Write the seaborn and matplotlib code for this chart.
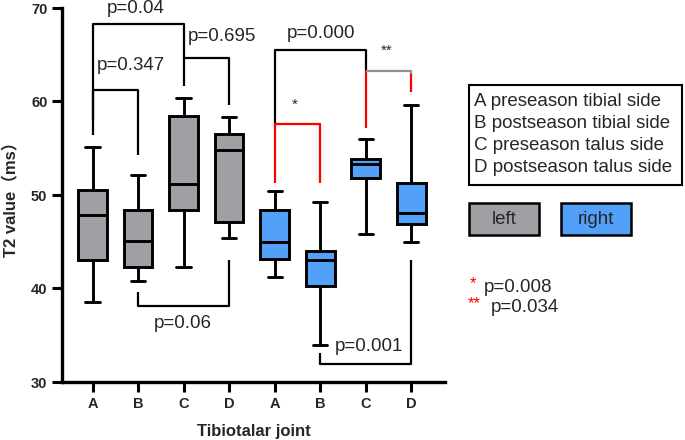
import numpy as np
import pandas as pd
import matplotlib.pyplot as plt
import seaborn as sns
from matplotlib.patches import Rectangle

# five-number summaries: min, q1, median, q3, max
joints = ["A", "B", "C", "D"]
sides = ["left", "right"]
left_stats = [
    [38.6, 43.0, 47.9, 50.5, 55.1],
    [40.8, 42.3, 45.1, 48.4, 52.1],
    [42.3, 48.4, 51.2, 58.5, 60.4],
    [45.4, 47.1, 54.8, 56.5, 58.3],
]
right_stats = [
    [41.2, 43.2, 45.0, 48.4, 50.4],
    [34.0, 40.3, 43.0, 44.0, 49.3],
    [45.8, 51.8, 53.3, 53.8, 56.0],
    [45.0, 46.9, 48.1, 51.3, 59.6],
]
legend_lines = ["A preseason tibial side", "B postseason tibial side",
                "C preseason talus side", "D postseason talus side"]
p_star1 = "p=0.008"
p_star2 = "p=0.034"

colors = {"left": "#a0a0a4", "right": "#52a0f8"}

rows = []
for side, stats in zip(sides, [left_stats, right_stats]):
    for j, vals in zip(joints, stats):
        for v in vals:
            rows.append({"group": side + " " + j, "side": side, "T2": v})
df = pd.DataFrame(rows)
order = [s + " " + j for s in sides for j in joints]

sns.set_style("ticks")
plt.rcParams['font.family'] = ['Liberation Sans', 'Noto Sans CJK SC', 'DejaVu Sans']

fig = plt.figure(figsize=(6.85, 4.40), dpi=100)
W, H = 685, 440
ax = fig.add_axes([62 / W, 58 / H, (445 - 62) / W, (382 - 8) / H])

sns.boxplot(data=df, x="group", y="T2", hue="side", order=order,
            palette=colors, dodge=False, saturation=1, width=0.63,
            whis=(0, 100), linewidth=2.1, linecolor="black", legend=False, ax=ax)

ax.set_ylim(30, 70)
ax.set_xlim(-0.67, 7.74)
ax.set_yticks([30, 40, 50, 60, 70])
ax.set_xticks(range(8), labels=joints * 2)
for lab in ax.get_xticklabels() + ax.get_yticklabels():
    lab.set_fontweight("bold")
    lab.set_fontsize(10.5)
ax.tick_params(width=2.2, length=7, color="black")
for s in ["top", "right"]:
    ax.spines[s].set_visible(False)
for s in ["left", "bottom"]:
    ax.spines[s].set_linewidth(2.4)
    ax.spines[s].set_color("black")
ax.set_xlabel("Tibiotalar joint", fontsize=12, fontweight="bold", labelpad=10)
ax.set_ylabel("T2 value（ms）", fontsize=12, fontweight="bold", labelpad=8)


def seg(xs, ys, color="black"):
    ax.plot(xs, ys, color=color, lw=1.6, clip_on=False, solid_capstyle="butt")


# left-side brackets
seg([0, 0, 2, 2], [58.0, 68.3, 68.3, 61.7])
seg([2, 3, 3], [64.65, 64.65, 59.6])
seg([0, 0, 1, 1], [56.4, 61.2, 61.2, 54.3])
seg([1, 1, 3, 3], [39.6, 38.1, 38.1, 43.0])
# right-side brackets
seg([4, 4, 6, 6], [57.6, 65.5, 65.5, 63.3])
seg([4, 4, 5, 5], [51.3, 57.6, 57.6, 51.3], "red")
seg([6, 6], [63.3, 57.2], "red")
seg([7, 7], [63.1, 61.0], "red")
seg([6, 7, 7], [63.3, 63.3, 62.9], "#909090")
seg([5, 5, 7, 7], [33.1, 31.9, 31.9, 43.0])

tk = dict(fontsize=13.5, ha="center", va="center", clip_on=False)
ax.text(0.95, 69.9, "p=0.04", **tk)
ax.text(0.85, 63.9, "p=0.347", **tk)
ax.text(2.85, 66.9, "p=0.695", **tk)
ax.text(1.98, 36.3, "p=0.06", **tk)
ax.text(5.02, 67.3, "p=0.000", **tk)
ax.text(6.07, 33.8, "p=0.001", **tk)
ax.text(4.43, 59.7, "*", fontsize=11, ha="center", va="center")
ax.text(6.46, 65.4, "**", fontsize=11, ha="center", va="center")


def fx(px):
    return px / W


def fy(py):
    return 1 - py / H


# description box
fig.patches.append(Rectangle((fx(469), fy(185)), (682 - 469) / W, (185 - 85) / H,
                             transform=fig.transFigure, fill=False, ec="black", lw=1.5))
for i, line in enumerate(legend_lines):
    fig.text(fx(474), fy(102 + 21.8 * i), line, fontsize=13.5, va="center", ha="left")

# side swatches
for side, x0, x1 in [("left", 469, 539), ("right", 561, 631)]:
    fig.patches.append(Rectangle((fx(x0), fy(235)), (x1 - x0) / W, 32 / H,
                                 transform=fig.transFigure, fc=colors[side],
                                 ec="black", lw=1.8))
    fig.text(fx((x0 + x1) / 2), fy(219), side, fontsize=13.5, ha="center", va="center")

# significance notes
fig.text(fx(470), fy(284), "*", color="red", fontsize=12, ha="left", va="center")
fig.text(fx(484), fy(287), p_star1, fontsize=13.5, ha="left", va="center")
fig.text(fx(468), fy(304), "**", color="red", fontsize=12, ha="left", va="center")
fig.text(fx(491), fy(307), p_star2, fontsize=13.5, ha="left", va="center")

fig.savefig("out.png", dpi=100)
